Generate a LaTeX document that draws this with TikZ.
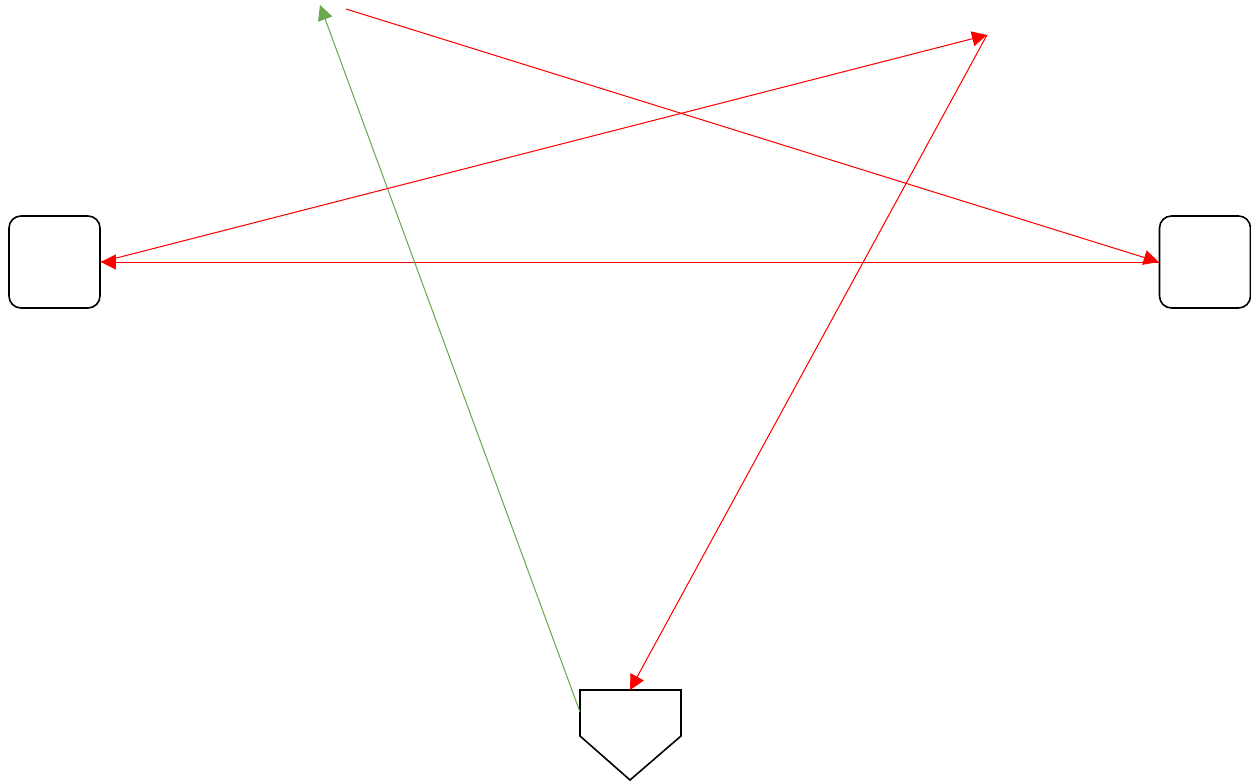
\documentclass[tikz,border=0pt]{standalone}
\usetikzlibrary{arrows.meta}
\definecolor{redline}{RGB}{255,0,0}
\definecolor{greenline}{RGB}{106,168,79}
\tikzset{
  box/.style={draw=black, line width=1.6pt, rounded corners=12pt, minimum width=91pt, minimum height=92pt, inner sep=0pt},
  link/.style={line width=1pt, -{Triangle[length=15pt,width=15pt]}},
  redlink/.style={link, draw=redline, fill=redline},
  greenlink/.style={link, draw=greenline, fill=greenline}
}
\begin{document}
\begin{tikzpicture}[x=1pt,y=-1pt]
\useasboundingbox (0,0) rectangle (1251,782);
\node[box] (L) at (54.5,262) {};
\node[box] (R) at (1205,262) {};
% pentagon
\coordinate (p1) at (580,690);
\coordinate (p2) at (681,690);
\coordinate (p3) at (681,736);
\coordinate (p4) at (630,780);
\coordinate (p5) at (580,736);
\draw[line width=1.6pt, line join=miter] (p1) -- (p2) -- (p3) -- (p4) -- (p5) -- cycle;
\coordinate (Ptop) at (630,690);
\coordinate (Pleft) at (580,712);
\coordinate (A) at (320,5);
\coordinate (B) at (346,9);
\coordinate (C) at (987,35);
\draw[redlink] (C) -- (Ptop);
\draw[redlink] (R.west) -- (L.east);
\draw[redlink] (L.east) -- (C);
\draw[redlink] (B) -- (R.west);
\draw[greenlink] (Pleft) -- (A);
\end{tikzpicture}
\end{document}
